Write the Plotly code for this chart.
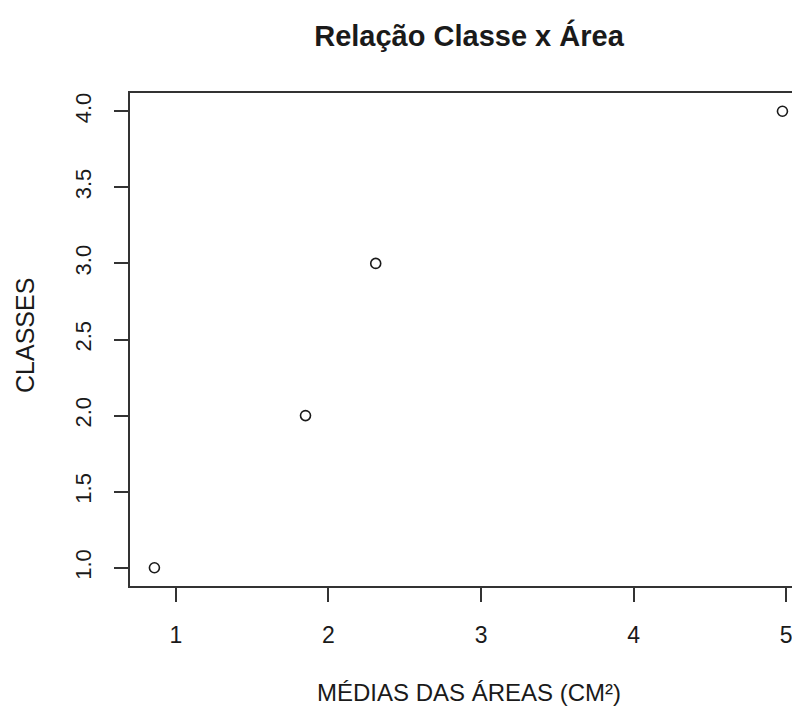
import plotly.graph_objects as go

medias_areas = [0.86, 1.85, 2.31, 4.975]
classes = [1, 2, 3, 4]
x_ticks = [1, 2, 3, 4, 5]
y_ticks = [1.0, 1.5, 2.0, 2.5, 3.0, 3.5, 4.0]
y_tick_labels = ["1.0", "1.5", "2.0", "2.5", "3.0", "3.5", "4.0"]

FONT = "Liberation Sans, Arial, sans-serif"
INK = "#1a1a1a"

# page body has an 8px margin: figure is drawn 8px right/down of the window origin
FW, FH = 792, 699
L, T, B = 122, 85, 121
PW, PH = FW - L, FH - T - B

fig = go.Figure()
fig.add_trace(go.Scatter(
    x=medias_areas, y=classes, mode="markers",
    marker=dict(symbol="circle-open", size=10, color=INK, line=dict(width=1.6, color=INK)),
    showlegend=False, hoverinfo="x+y",
))

fig.update_layout(
    width=FW, height=FH,
    margin=dict(l=L, r=0, t=T, b=B, pad=0),
    paper_bgcolor="white", plot_bgcolor="white",
    font=dict(family=FONT, color=INK),
    title=dict(text="<b>Relação Classe x Área</b>", x=461 / FW,
               xanchor="center", y=1 - 28 / FH, yanchor="middle",
               font=dict(size=29, family=FONT, color=INK)),
    xaxis=dict(range=[0.70, 5.09], tickvals=x_ticks, ticktext=[str(v) for v in x_ticks],
               showgrid=False, zeroline=False, showline=True, linecolor="#333", linewidth=1.6,
               mirror=True, ticks="outside", ticklen=14, tickwidth=1.6, tickcolor="#333",
               tickfont=dict(size=23, family=FONT, color=INK), ticklabelstandoff=14),
    yaxis=dict(range=[0.88, 4.12], tickvals=y_ticks, ticktext=y_tick_labels,
               showgrid=False, zeroline=False, showline=True, linecolor="#333", linewidth=1.6,
               mirror=False, ticks="outside", ticklen=14, tickwidth=1.6, tickcolor="#333",
               tickangle=-90, tickfont=dict(size=22, family=FONT, color=INK), ticklabelstandoff=14),
    annotations=[
        dict(text="MÉDIAS DAS ÁREAS (CM²)", xref="paper", yref="paper",
             x=(461 - L) / PW, y=-(684 - (T + PH)) / PH, xanchor="center", yanchor="middle",
             showarrow=False, font=dict(size=24, family=FONT, color=INK)),
        dict(text="CLASSES", xref="paper", yref="paper", textangle=-90,
             x=(17 - L) / PW, y=(T + PH - 328) / PH, xanchor="center", yanchor="middle",
             showarrow=False, font=dict(size=25, family=FONT, color=INK)),
    ],
)

fig.write_html("out.html")
